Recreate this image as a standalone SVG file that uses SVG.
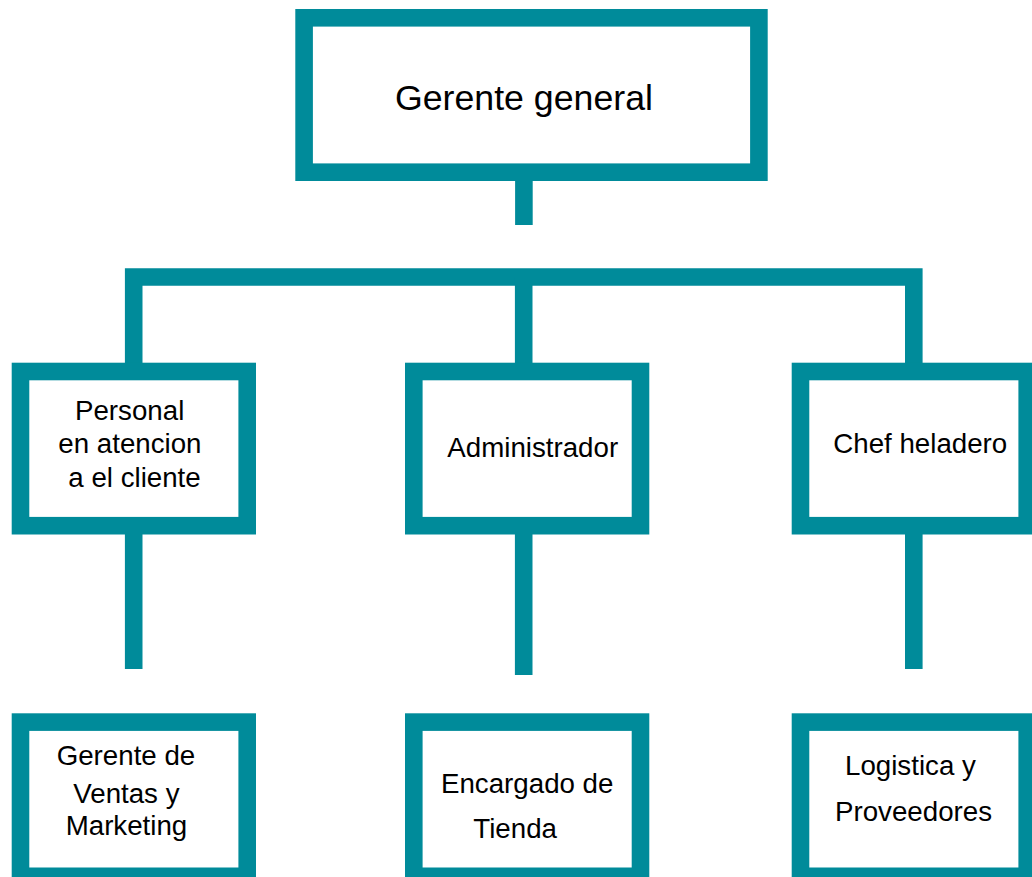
<svg xmlns="http://www.w3.org/2000/svg" width="1032" height="877" viewBox="0 0 1032 877">
<style>
.box{fill:#ffffff;stroke:#008B9A;stroke-width:17.6}
.con{fill:none;stroke:#008B9A;stroke-width:17.6;stroke-linecap:butt;stroke-linejoin:miter}
.t{font-family:"Liberation Sans",Arial,sans-serif;font-size:27.7px;fill:#000000}
.tt{font-family:"Liberation Sans",Arial,sans-serif;font-size:35.7px;fill:#000000}
</style>
<rect width="1032" height="877" fill="#ffffff"/>
<g id="connectors">
<path class="con" d="M523.9,181 V225"/>
<path class="con" d="M133.7,363 V277 H913.8 V363"/>
<path class="con" d="M523.7,277 V363"/>
<path class="con" d="M133.7,534 V669"/>
<path class="con" d="M523.7,534 V675"/>
<path class="con" d="M913.8,534 V669"/>
</g>
<g id="gerente-general">
<rect class="box" x="304.1" y="17.8" width="454.8" height="154.4"/>
<text class="tt" x="395" y="110">Gerente general</text>
</g>
<g id="personal-atencion">
<rect class="box" x="20.5" y="371.5" width="226.7" height="154.2"/>
<text class="t" x="75" y="420">Personal</text>
<text class="t" x="58.3" y="452.7">en atencion</text>
<text class="t" x="68.3" y="487.3">a el cliente</text>
</g>
<g id="administrador">
<rect class="box" x="413.8" y="371.5" width="226.7" height="154.2"/>
<text class="t" x="447.3" y="457.3">Administrador</text>
</g>
<g id="chef-heladero">
<rect class="box" x="800.5" y="371.5" width="226.7" height="154.2"/>
<text class="t" x="833.3" y="453.3">Chef heladero</text>
</g>
<g id="gerente-ventas">
<rect class="box" x="20.5" y="722.1" width="226.7" height="154.2"/>
<text class="t" x="56.7" y="765">Gerente de</text>
<text class="t" x="73.3" y="803.3">Ventas y</text>
<text class="t" x="65.7" y="835">Marketing</text>
</g>
<g id="encargado-tienda">
<rect class="box" x="413.8" y="722.1" width="226.7" height="154.2"/>
<text class="t" x="441" y="792.7">Encargado de</text>
<text class="t" x="473.3" y="838.3">Tienda</text>
</g>
<g id="logistica">
<rect class="box" x="800.5" y="722.1" width="226.7" height="154.2"/>
<text class="t" x="845" y="775">Logistica y</text>
<text class="t" x="835" y="820.7">Proveedores</text>
</g>
</svg>
